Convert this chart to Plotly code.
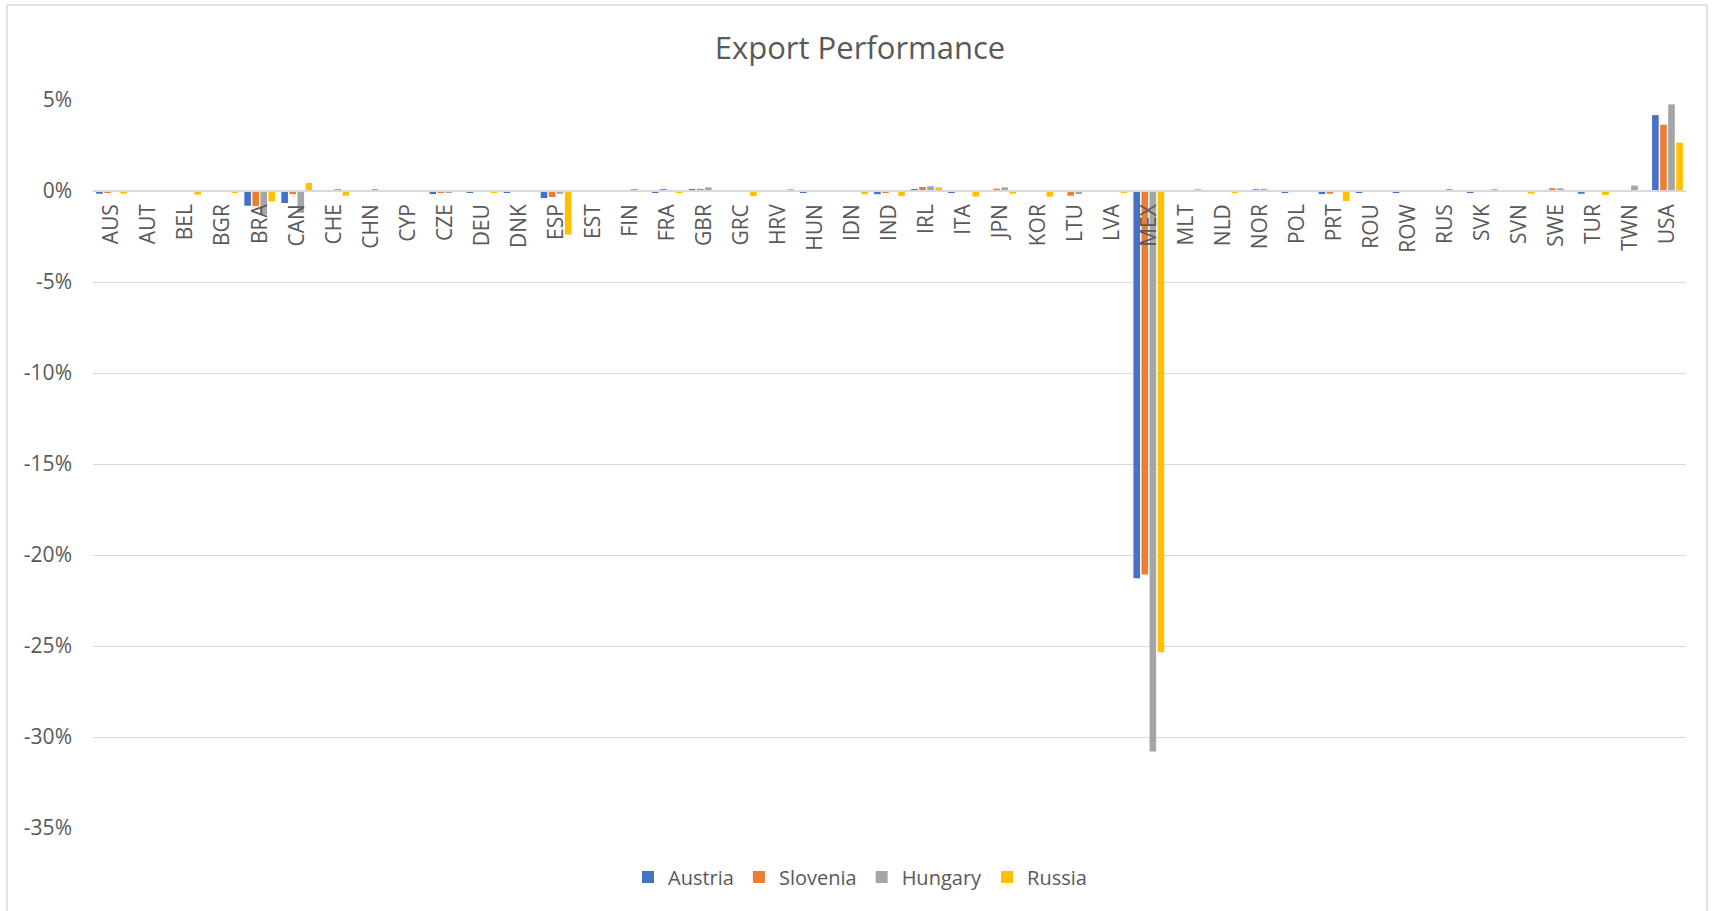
import plotly.graph_objects as go

# Export performance by partner country (percent change)
countries = ["AUS", "AUT", "BEL", "BGR", "BRA", "CAN", "CHE", "CHN", "CYP", "CZE",
             "DEU", "DNK", "ESP", "EST", "FIN", "FRA", "GBR", "GRC", "HRV", "HUN",
             "IDN", "IND", "IRL", "ITA", "JPN", "KOR", "LTU", "LVA", "MEX", "MLT",
             "NLD", "NOR", "POL", "PRT", "ROU", "ROW", "RUS", "SVK", "SVN", "SWE",
             "TUR", "TWN", "USA"]

austria = [-0.15, -0.01, -0.05, -0.01, -0.81, -0.66, -0.05, 0.01, -0.02, -0.17,
           -0.06, -0.06, -0.39, 0.01, 0.02, -0.06, 0.07, 0.0, 0.01, -0.06,
           0.0, -0.18, 0.08, -0.10, 0.03, -0.05, -0.05, -0.01, -21.28, 0.02,
           0.01, 0.03, -0.10, -0.17, -0.07, -0.10, 0.01, -0.06, 0.0, 0.03,
           -0.15, 0.01, 4.17]

slovenia = [-0.10, 0.0, -0.02, 0.0, -0.83, -0.17, -0.05, 0.02, 0.01, -0.10,
            0.0, 0.0, -0.33, 0.0, 0.05, 0.10, 0.12, 0.01, 0.0, 0.0,
            0.01, -0.10, 0.22, 0.0, 0.13, -0.05, -0.26, 0.0, -21.07, 0.0,
            0.03, 0.08, 0.0, -0.15, 0.03, 0.0, 0.03, 0.0, 0.01, 0.15,
            -0.05, 0.0, 3.64]

hungary = [0.01, 0.0, 0.0, 0.0, -1.30, -1.20, 0.07, 0.07, 0.01, -0.08,
           0.0, 0.0, -0.15, 0.02, 0.07, -0.04, 0.20, 0.0, 0.0, 0.0,
           0.0, -0.05, 0.26, 0.0, 0.20, 0.0, -0.17, 0.0, -30.80, 0.0,
           0.04, 0.12, 0.0, 0.0, 0.0, 0.0, 0.08, 0.0, 0.0, 0.15,
           -0.03, 0.30, 4.76]

russia = [-0.15, 0.0, -0.20, -0.12, -0.57, 0.44, -0.26, 0.0, 0.0, 0.0,
          -0.08, 0.0, -2.40, 0.0, 0.0, -0.08, 0.0, -0.28, 0.09, -0.05,
          -0.18, -0.28, 0.20, -0.30, -0.15, -0.31, 0.05, -0.10, -25.34, 0.08,
          -0.08, 0.0, 0.0, -0.55, 0.0, 0.0, 0.0, 0.08, -0.15, 0.05,
          -0.22, 0.05, 2.65]

y_ticks = [5, 0, -5, -10, -15, -20, -25, -30, -35]
y_tick_labels = ["5%", "0%", "-5%", "-10%", "-15%", "-20%", "-25%", "-30%", "-35%"]

series = [
    ("Austria", austria, "#4472C4"),
    ("Slovenia", slovenia, "#ED7D31"),
    ("Hungary", hungary, "#A5A5A5"),
    ("Russia", russia, "#FFC000"),
]

W, H = 1714, 911
ML, MR, MT, MB = 93, 28, 100, 83
TXT = "#595959"
GRID = "#D9D9D9"
FONT = "Open Sans"

fig = go.Figure()
for name, vals, color in series:
    fig.add_trace(go.Bar(x=countries, y=vals, name=name, marker_color=color,
                         marker_line_width=0))

y_min, y_max = -35, 5
zero_frac = (0 - y_min) / (y_max - y_min)

# Chart border in paper coordinates
pw, ph = W - ML - MR, H - MT - MB
bx0, bx1 = (7 - ML) / pw, (1707 - ML) / pw
by_top = (H - 5 - MB) / ph
by_bot = (H - 1000 - MB) / ph

fig.update_layout(
    width=W, height=H,
    margin=dict(l=ML, r=MR, t=MT, b=MB, autoexpand=False),
    paper_bgcolor="white", plot_bgcolor="white",
    font=dict(family=FONT, color=TXT, size=21),
    title=dict(text="Export Performance", x=860 / W,
               xanchor="center", y=1 - 48 / H, yanchor="middle",
               font=dict(size=31, color=TXT, family=FONT)),
    barmode="group", bargap=0.13, bargroupgap=0.18,
    legend=dict(orientation="h", x=(860 - ML) / pw, xanchor="center",
                y=-(877 - (H - MB)) / ph, yanchor="middle",
                font=dict(size=20, color=TXT), itemclick=False,
                traceorder="normal"),
    xaxis=dict(anchor="free", position=zero_frac, tickangle=-90,
               showline=True, linecolor=GRID, linewidth=1.5,
               showgrid=False, ticks="", tickfont=dict(size=21, color=TXT),
               ticklabelstandoff=4),
    yaxis=dict(range=[y_min, y_max], tickvals=y_ticks, ticktext=y_tick_labels,
               showgrid=True, gridcolor=GRID, gridwidth=1.3, zeroline=False,
               showline=False, ticks="", ticklabelstandoff=20,
               tickfont=dict(size=21, color=TXT)),
    shapes=[dict(type="rect", xref="paper", yref="paper",
                 x0=bx0, x1=bx1, y0=by_bot, y1=by_top,
                 line=dict(color=GRID, width=1.5), layer="below")],
)

fig.write_html("out.html")
